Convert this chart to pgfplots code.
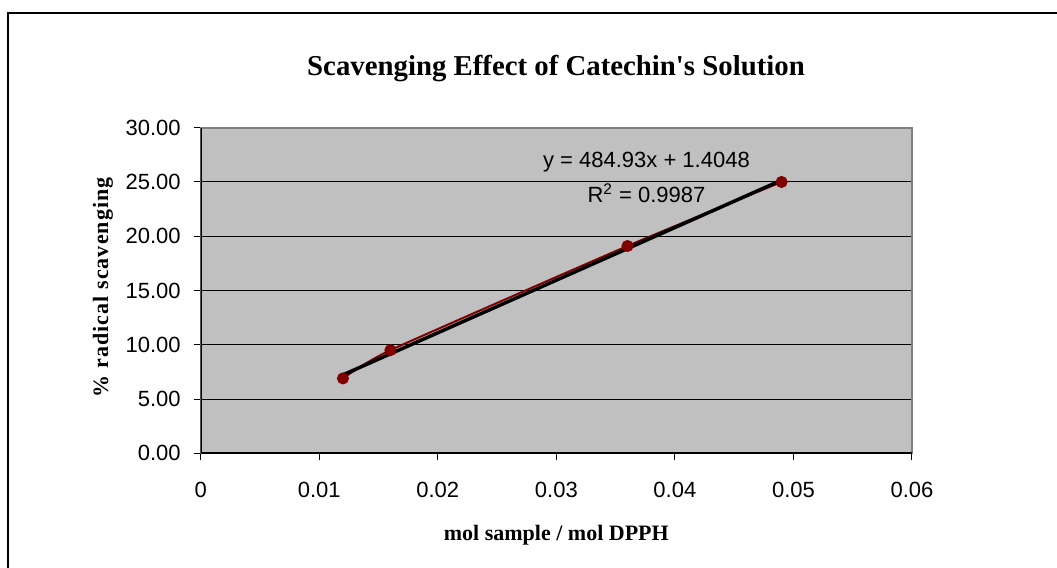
\documentclass[border=0pt]{standalone}
\usepackage{fontspec}
\setmainfont{Liberation Serif}
\setsansfont{Liberation Sans}
\usepackage{pgfplots}
\pgfplotsset{compat=1.18}
\definecolor{plotgray}{RGB}{192,192,192}
\definecolor{framegray}{RGB}{128,128,128}
\definecolor{darkred}{RGB}{128,0,0}

\begin{document}
\begin{tikzpicture}
\useasboundingbox (0,0) rectangle (528.5pt,284pt);
% chart area frame (only top and left edges are visible)
\draw[line width=0.6pt] (4pt,0) -- (4pt,277.5pt) -- (528.5pt,277.5pt);
\node[anchor=base, font=\fontsize{14.4}{17}\selectfont\bfseries] at (278pt,246pt)
  {Scavenging Effect of Catechin\textquotesingle s Solution};
\begin{axis}[
    at={(100.35pt,57.35pt)}, anchor=south west,
    scale only axis,
    width=355.65pt, height=162.8pt,
    xmin=0, xmax=0.06,
    ymin=0, ymax=30,
    xtick={0,0.01,0.02,0.03,0.04,0.05,0.06},
    xticklabels={0,0.01,0.02,0.03,0.04,0.05,0.06},
    scaled x ticks=false,
    ytick={0,5,10,15,20,25,30},
    ticklabel style={font=\sffamily\fontsize{11}{13}\selectfont},
    xticklabel style={yshift=-7.5pt},
    yticklabel style={xshift=-3pt, /pgf/number format/.cd, fixed, fixed zerofill, precision=2},
    /pgf/number format/assume math mode=true,
    tick align=outside,
    major tick length=3.5pt,
    tick style={black, line width=0.5pt},
    xtick pos=left, ytick pos=left,
    axis background/.style={fill=plotgray},
    axis line style={draw=framegray, line width=0.9pt},
    ymajorgrids,
    major grid style={black, line width=0.5pt},
    xlabel={mol sample / mol DPPH},
    ylabel={\% radical scavenging},
    label style={font=\fontsize{11}{13}\selectfont\bfseries},
    xlabel style={at={(axis description cs:0.5,0)}, anchor=base, yshift=-43.7pt},
    ylabel style={at={(axis description cs:-0.1374,0.51)}, anchor=center,
                  font=\fontsize{11}{13}\selectfont\bfseries\addfontfeatures{LetterSpace=5}},
]
\addplot[darkred, line width=1pt, smooth, tension=0.3,
         mark=*, mark size=2.5pt, mark options={fill=darkred, draw=darkred, solid}]
  coordinates {(0.012,6.9) (0.016,9.5) (0.036,19.1) (0.049,25.0)};
\addplot[black, line width=1.75pt]
  coordinates {(0.012,7.224) (0.049,25.166)};
\draw[black, line width=0.9pt] (rel axis cs:0,1) -- (rel axis cs:0,0) -- (rel axis cs:1,0);
\node[font=\sffamily\fontsize{11}{13}\selectfont] at (axis cs:0.0376,26.8)
  {y = 484.93x + 1.4048};
\node[font=\sffamily\fontsize{11}{13}\selectfont] at (axis cs:0.0376,23.95)
  {R\textsuperscript{2} = 0.9987};
\end{axis}
\end{tikzpicture}
\end{document}
